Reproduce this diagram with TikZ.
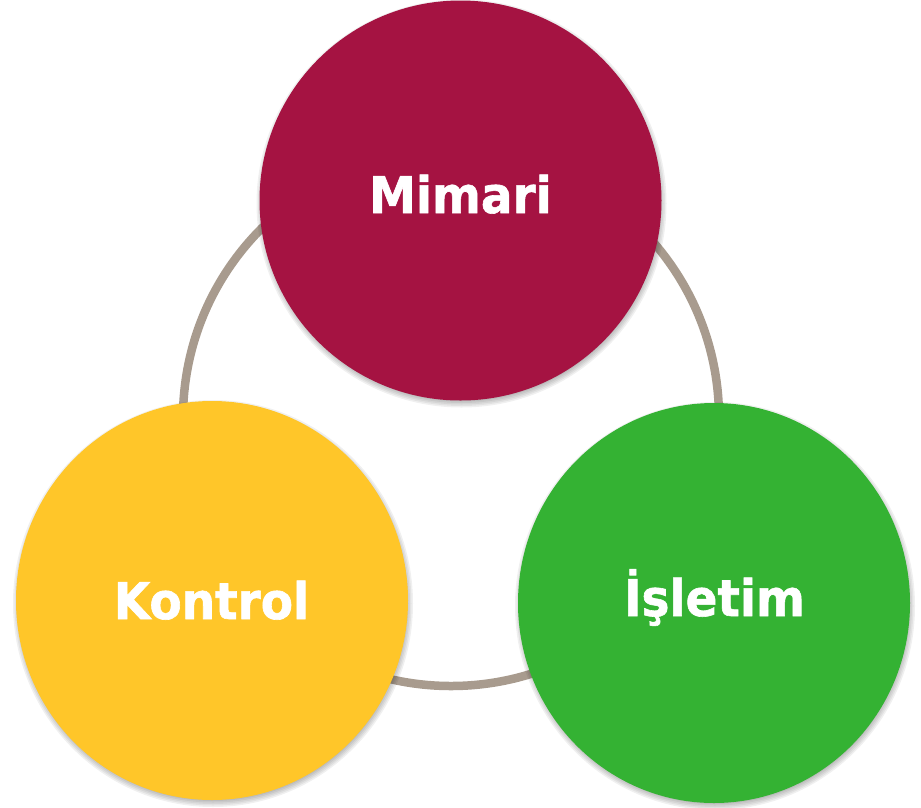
\documentclass[tikz,border=0pt]{standalone}
\usepackage{fontspec}
\setmainfont{DejaVu Sans}
\newfontfamily\lblfont[FakeBold=1.2,FakeStretch=0.93]{DejaVu Sans Bold}
\usetikzlibrary{shapes.geometric}
\definecolor{ringc}{RGB}{168,155,142}
\definecolor{mimaric}{RGB}{165,19,66}
\definecolor{kontrolc}{RGB}{255,198,41}
\definecolor{isletimc}{RGB}{52,178,51}
\tikzset{
  blob/.style={ellipse, inner sep=0pt, outer sep=0pt, draw=none},
  lbl/.style={anchor=base, text=white, inner sep=0pt, font=\lblfont\fontsize{50.5}{54}\selectfont},
  shadowlayer/.style={fill=black, fill opacity=0.06, draw=none}
}
\begin{document}
\begin{tikzpicture}[x=1pt,y=-1pt]
\useasboundingbox (0,0) rectangle (921,807);
% ring
\coordinate (ringc) at (451,418);
\draw[ringc, line width=8.5pt] (ringc) circle[radius=268];
% shadows
\foreach \cx/\cy/\rx/\ry in {460.5/200.5/201/200, 212/600.5/196/199.5, 714/603/196/200}{
  \foreach \d in {0,1.5,3,4.5,6}{
    \fill[shadowlayer] (\cx+1,\cy+3) ellipse[x radius=\rx+\d-2, y radius=\ry+\d-2];
  }
}
% circles
\node[blob, fill=mimaric, minimum width=402pt, minimum height=400pt] (mimari) at (460.5,200.5) {};
\node[blob, fill=kontrolc, minimum width=392pt, minimum height=399pt] (kontrol) at (212,600.5) {};
\node[blob, fill=isletimc, minimum width=392pt, minimum height=400pt] (isletim) at (714,603) {};
% labels
\node[lbl] (tmimari) at (460.5,213) {Mimari};
\node[lbl] (tkontrol) at (211.5,619) {Kontrol};
\node[lbl] (tisletim) at (714.5,616) {İşletim};
\end{tikzpicture}
\end{document}
